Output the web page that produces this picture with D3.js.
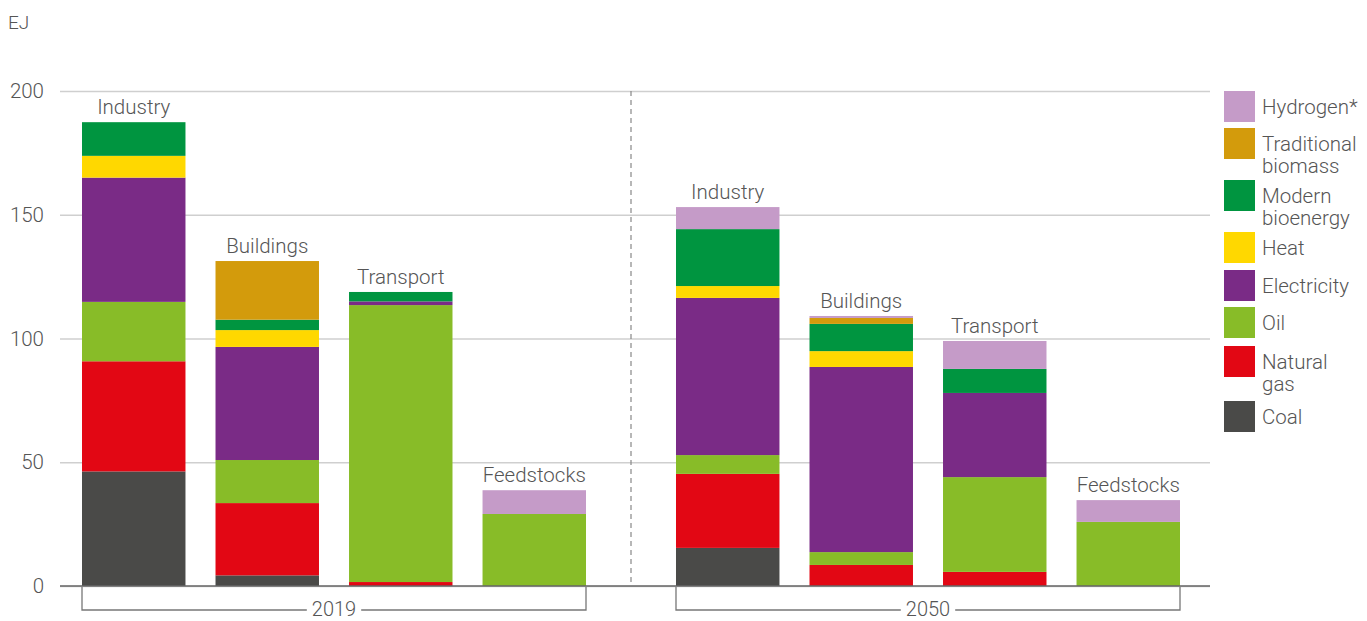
<!DOCTYPE html>
<html>
<head>
<meta charset="utf-8">
<script src="https://cdn.jsdelivr.net/npm/d3@7"></script>
<style>
  html, body { margin: 0; padding: 0; background: #fff; }
  svg text { font-family: Roboto, "Noto Sans", sans-serif; font-weight: 300; fill: #555; }
</style>
</head>
<body>
<svg id="chart" width="1367" height="621"></svg>
<script>
// Final energy demand by sector and carrier, EJ
const years = ["2019", "2050"];
const sectors = ["Industry", "Buildings", "Transport", "Feedstocks"];
const carriers = ["Coal", "Natural gas", "Oil", "Electricity", "Heat", "Modern bioenergy", "Traditional biomass", "Hydrogen*"];
const colors = ["#4a4a48", "#e20714", "#88bc28", "#7a2b86", "#ffd800", "#009540", "#d39b0c", "#c59bc8"];
const legendLabels = [["Hydrogen*"], ["Traditional", "biomass"], ["Modern", "bioenergy"], ["Heat"], ["Electricity"], ["Oil"], ["Natural", "gas"], ["Coal"]];
const yTicks = [0, 50, 100, 150, 200];

// values per carrier (order above) for each sector
const values2019 = {
  Industry:   [46.3, 44.5, 24.0, 50.2, 8.8, 13.6, 0, 0],
  Buildings:  [4.3, 29.2, 17.4, 45.7, 6.8, 4.2, 23.7, 0],
  Transport:  [0, 1.6, 111.9, 1.5, 0, 3.8, 0, 0],
  Feedstocks: [0, 0, 29.1, 0, 0, 0, 0, 9.6]
};
const values2050 = {
  Industry:   [15.4, 29.9, 7.6, 63.5, 4.8, 23.0, 0, 8.9],
  Buildings:  [0, 8.5, 5.2, 74.8, 6.4, 11.0, 2.4, 0.8],
  Transport:  [0, 5.7, 38.3, 34.0, 0, 9.7, 0, 11.3],
  Feedstocks: [0, 0, 25.9, 0, 0, 0, 0, 8.8]
};
const valuesByYear = { "2019": values2019, "2050": values2050 };

const svg = d3.select("#chart");
const FS = 20.5;

const y = d3.scaleLinear().domain([0, 200]).range([586, 91]);
const xYear = d3.scaleBand().domain(years).range([82, 1180]).paddingInner(0.1515).paddingOuter(0);
const xSector = d3.scaleBand().domain(sectors).range([0, xYear.bandwidth()]).paddingInner(0.225).paddingOuter(0);
const color = d3.scaleOrdinal().domain(carriers).range(colors);

const plotLeft = 60, plotRight = 1210;

// gridlines and y labels
const yAxis = d3.axisLeft(y).tickValues(yTicks).tickSize(-(plotRight - plotLeft)).tickPadding(16);
const gy = svg.append("g").attr("transform", `translate(${plotLeft},0)`).call(yAxis);
gy.select(".domain").remove();
gy.selectAll(".tick line").attr("stroke", "#cfcfcf").attr("stroke-width", 1.3);
gy.selectAll(".tick text").attr("font-size", FS).style("font-family", "Roboto, sans-serif").style("font-weight", 300).attr("fill", "#555");

svg.append("text").attr("x", 8).attr("y", 29).attr("font-size", 19).text("EJ");

// stacked bars
years.forEach(yr => {
  const rows = sectors.map(s => {
    const o = { sector: s };
    carriers.forEach((c, i) => o[c] = valuesByYear[yr][s][i]);
    return o;
  });
  const stacked = d3.stack().keys(carriers)(rows);
  const g = svg.append("g").attr("transform", `translate(${xYear(yr)},0)`);
  g.selectAll("g.layer").data(stacked).join("g")
    .attr("class", "layer")
    .attr("fill", d => color(d.key))
    .selectAll("rect").data(d => d.filter(p => p[1] - p[0] > 0)).join("rect")
    .attr("x", d => xSector(d.data.sector))
    .attr("width", xSector.bandwidth())
    .attr("y", d => y(d[1]))
    .attr("height", d => y(d[0]) - y(d[1]));

  // sector labels above each bar
  g.selectAll("text.sector").data(rows).join("text")
    .attr("class", "sector")
    .attr("x", d => xSector(d.sector) + xSector.bandwidth() / 2)
    .attr("y", d => y(d3.sum(carriers, c => d[c])) - 8)
    .attr("text-anchor", "middle")
    .attr("font-size", FS)
    .text(d => d.sector);

  // year bracket
  const x0 = xYear(yr), x1 = xYear(yr) + xYear.bandwidth();
  const xm = (x0 + x1) / 2;
  const yl = svg.append("text").attr("x", xm).attr("y", 616).attr("text-anchor", "middle")
    .attr("font-size", 20).text(yr);
  const tw = yl.node().getComputedTextLength();
  const bracket = svg.append("g").attr("stroke", "#777").attr("stroke-width", 1.3).attr("fill", "none");
  bracket.append("path").attr("d", `M${x0},587V610H${xm - tw / 2 - 5}`);
  bracket.append("path").attr("d", `M${x1},587V610H${xm + tw / 2 + 5}`);
});

// baseline
svg.append("line").attr("x1", plotLeft).attr("x2", plotRight).attr("y1", y(0)).attr("y2", y(0))
  .attr("stroke", "#666").attr("stroke-width", 1.6);

// dashed divider between years
const divX = (xYear("2019") + xYear.bandwidth() + xYear("2050")) / 2;
svg.append("line").attr("x1", divX).attr("x2", divX).attr("y1", y(200)).attr("y2", y(0))
  .attr("stroke", "#888").attr("stroke-width", 1.2).attr("stroke-dasharray", "5,4");

// legend
const legendTops = [91, 128, 180, 232, 270, 307, 346, 401];
const legendOrder = carriers.slice().reverse();
const lg = svg.append("g");
legendOrder.forEach((c, i) => {
  const top = legendTops[i];
  lg.append("rect").attr("x", 1224).attr("y", top).attr("width", 31).attr("height", 31).attr("fill", color(c));
  const t = lg.append("text").attr("x", 1262).attr("y", top + 23).attr("font-size", FS);
  legendLabels[i].forEach((line, j) => {
    t.append("tspan").attr("x", 1262).attr("dy", j === 0 ? 0 : 22).text(line);
  });
});
</script>
</body>
</html>
